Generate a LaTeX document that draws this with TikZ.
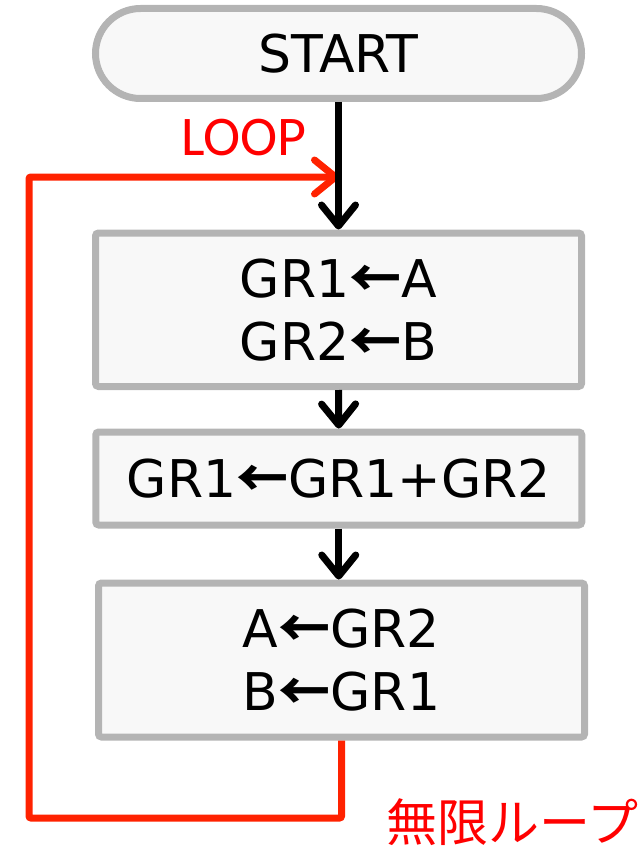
\documentclass[tikz,border=0pt]{standalone}
\usepackage{fontspec}
\setmainfont{DejaVu Sans}
\newfontfamily\loopfont{Carlito}
\newfontfamily\jpfont{Noto Sans CJK JP}
\usetikzlibrary{arrows.meta}

\definecolor{boxgray}{HTML}{B4B4B4}
\definecolor{boxfill}{HTML}{F8F8F8}
\definecolor{loopred}{HTML}{FF2200}
\definecolor{labelred}{HTML}{FF0000}

% assignment arrow, taken from the full-width CJK font
\newcommand\assignarrow{{\jpfont\bfseries ←}}

\begin{document}
\begin{tikzpicture}[x=1pt,y=-1pt,
  box/.style={draw=boxgray, fill=boxfill, line width=7pt, rounded corners=3pt,
    minimum width=486pt, inner sep=0pt, align=center,
    font=\fontsize{52}{63}\selectfont},
  terminal/.style={box, rounded corners=45pt, minimum height=90pt},
  barb/.tip={Straight Barb[length=21pt, width=34pt, round]},
  flow/.style={line width=7pt, -{barb}},
  loopline/.style={draw=loopred, line width=7pt, rounded corners=2pt, -{barb}},
  redlabel/.style={text=labelred, inner sep=0pt}
]
\useasboundingbox (0,0) rectangle (644,848);

% corners of the loop back edge
\coordinate (lpA) at (341.5,818);
\coordinate (lpB) at (29,818);
\coordinate (lpC) at (29,177);
\coordinate (lpD) at (339,177);

% process boxes
\node[terminal] (start) at (338.5,53.5) {\raisebox{-2pt}{START}};
\node[box, minimum height=153.5pt] (b1) at (338.5,309.75) {GR1\assignarrow A\\GR2\assignarrow B};
\node[box, minimum height=93pt] (b2) at (338.75,478.5) {GR1\assignarrow GR1+GR2};
\node[box, minimum height=154pt] (b3) at (341.5,660) {A\assignarrow GR2\\B\assignarrow GR1};

\draw[loopline] (b3.south) -- (lpA) -- (lpB) -- (lpC) -- (lpD);

% forward flow
\draw[flow] (start.south) -- (b1.north);
\draw[flow] (b1.south) -- (b2.north);
\draw[flow] (b2.south) -- (b2.south |- b3.north);

% labels
\node[redlabel, font=\loopfont\fontsize{56}{60}\selectfont, anchor=base] (looplbl) at (244,155) {LOOP};
\node[redlabel, font=\jpfont\fontsize{51}{55}\selectfont] (inflbl) at (512,822) {無限ループ};
\end{tikzpicture}
\end{document}
